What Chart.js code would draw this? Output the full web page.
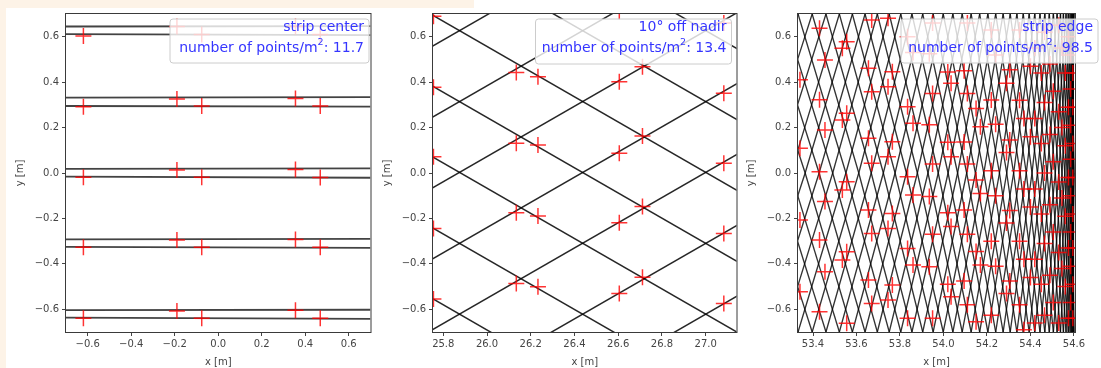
<!DOCTYPE html>
<html><head><meta charset="utf-8">
<script src="https://cdn.jsdelivr.net/npm/chart.js@4.4.1/dist/chart.umd.min.js"></script>
<style>
html,body{margin:0;padding:0;background:#fff;}
#wrap{position:relative;width:1101px;height:368px;overflow:hidden;background:#fff;}
.peach{position:absolute;background:#fdf3e7;}
canvas{position:absolute;top:0;}
</style></head><body>
<div id="wrap">
<div class="peach" style="left:0;top:0;width:474px;height:8px"></div>
<div class="peach" style="left:0;top:0;width:6px;height:368px"></div>
<canvas id="c1" width="380" height="368" style="left:0px;width:380px;height:368px"></canvas>
<canvas id="c2" width="366" height="368" style="left:380px;width:366px;height:368px"></canvas>
<canvas id="c3" width="361" height="368" style="left:740px;width:361px;height:368px"></canvas>
</div>
<script>
// ---------- shared ticks ----------
const yTicks = [-0.6, -0.4, -0.2, 0.0, 0.2, 0.4, 0.6];
const p1XTicks = [-0.6, -0.4, -0.2, 0.0, 0.2, 0.4, 0.6];
const p2XTicks = [25.8, 26.0, 26.2, 26.4, 26.6, 26.8, 27.0];
const p3XTicks = [53.4, 53.6, 53.8, 54.0, 54.2, 54.4, 54.6];

// ---------- panel 1 : strip center ----------
const p1LineX = [-0.7, 0.7];
const p1LineLeftY  = [0.645, 0.611, 0.332, 0.295, 0.018, -0.016, -0.292, -0.325, -0.604, -0.637];
const p1LineRightY = [0.647, 0.607, 0.334, 0.292, 0.020, -0.021, -0.290, -0.330, -0.602, -0.642];
const p1MarkX = [-0.62, -0.19, -0.076, 0.355, 0.469];
const p1MarkY = [
  [0.603, 0.292, -0.019, -0.327, -0.640],
  [0.645, 0.326, 0.013, -0.295, -0.607],
  [0.610, 0.295, -0.019, -0.327, -0.640],
  [0.645, 0.328, 0.015, -0.293, -0.604],
  [0.610, 0.295, -0.020, -0.327, -0.640]
];
const p1Label = 'strip center';
const p1Density = '11.7';

// ---------- panel 2 : 10° off nadir ----------
const p2LineX = [25.7, 27.2];
const p2UpStartY   = [-1.342, -1.030, -0.718, -0.406, -0.094, 0.218, 0.530];
const p2UpEndY     = [-0.511, -0.199, 0.113, 0.425, 0.737, 1.049, 1.361];
const p2DownStartY = [-0.525, -0.213, 0.099, 0.411, 0.723, 1.035, 1.347];
const p2DownEndY   = [-1.356, -1.044, -0.732, -0.420, -0.108, 0.204, 0.516];
const p2MarkX = [25.755, 26.134, 26.233, 26.605, 26.711, 27.083];
const p2MarkY = [
  [0.690, 0.377, 0.072, -0.244, -0.555],
  [0.442, 0.131, -0.175, -0.486],
  [0.424, 0.123, -0.189, -0.501],
  [0.710, 0.402, 0.087, -0.219, -0.530],
  [0.468, 0.163, -0.148, -0.459],
  [0.660, 0.351, 0.043, -0.266, -0.574]
];
const p2Label = '10° off nadir';
const p2Density = '13.4';

// ---------- panel 3 : strip edge ----------
// scan lines sampled at y = 0.7, 0.0, -0.7 (x positions read from the picture)
const p3SampleY = [0.7, 0.0, -0.7];
// lines whose turning point lies at / above the window
const p3aTop = [54.5895, 54.5946, 54.5981, 54.5998, 54.5998, 54.5981, 54.5946, 54.5895, 54.5827, 54.5741, 54.5638, 54.5518, 54.5382, 54.5227, 54.5056, 54.4868, 54.4662, 54.4440, 54.4200, 54.3943, 54.3670, 54.3378, 54.3070, 54.2745, 54.2403, 54.2043, 54.1666, 54.1273, 54.0862, 54.0434, 53.9989, 53.9526, 53.9047, 53.8551, 53.8037, 53.7506, 53.6958, 53.6394, 53.5811, 53.5212, 53.4596, 53.3962, 53.3312];
const p3aMid = [54.6000, 54.5991, 54.5966, 54.5923, 54.5863, 54.5786, 54.5692, 54.5581, 54.5452, 54.5307, 54.5144, 54.4964, 54.4767, 54.4553, 54.4322, 54.4074, 54.3809, 54.3526, 54.3227, 54.2910, 54.2576, 54.2225, 54.1857, 54.1472, 54.1069, 54.0650, 54.0213, 53.9760, 53.9289, 53.8801, 53.8296, 53.7774, 53.7235, 53.6678, 53.6105, 53.5514, 53.4906, 53.4281, 53.3639, 53.2980, 53.2304, 53.1611, 53.0900];
const p3aBot = [54.5895, 54.5827, 54.5741, 54.5638, 54.5518, 54.5382, 54.5227, 54.5056, 54.4868, 54.4662, 54.4440, 54.4200, 54.3943, 54.3670, 54.3378, 54.3070, 54.2745, 54.2403, 54.2043, 54.1666, 54.1273, 54.0862, 54.0434, 53.9989, 53.9526, 53.9047, 53.8551, 53.8037, 53.7506, 53.6958, 53.6394, 53.5811, 53.5212, 53.4596, 53.3962, 53.3312, 53.2644, 53.1959, 53.1258, 53.0538, 52.9802, 52.9049, 52.8279];
// lines whose turning point lies below the window
const p3bTop = [54.5827, 54.5741, 54.5638, 54.5518, 54.5382, 54.5227, 54.5056, 54.4868, 54.4662, 54.4440, 54.4200, 54.3943, 54.3670, 54.3378, 54.3070, 54.2745, 54.2403, 54.2043, 54.1666, 54.1273, 54.0862, 54.0434, 53.9989, 53.9526, 53.9047, 53.8551, 53.8037, 53.7506, 53.6958, 53.6394, 53.5811, 53.5212, 53.4596, 53.3962, 53.3312, 53.2644, 53.1959, 53.1258, 53.0538, 52.9802, 52.9049, 52.8279];
const p3bMid = [54.5991, 54.5966, 54.5923, 54.5863, 54.5786, 54.5692, 54.5581, 54.5452, 54.5307, 54.5144, 54.4964, 54.4767, 54.4553, 54.4322, 54.4074, 54.3809, 54.3526, 54.3227, 54.2910, 54.2576, 54.2225, 54.1857, 54.1472, 54.1069, 54.0650, 54.0213, 53.9760, 53.9289, 53.8801, 53.8296, 53.7774, 53.7235, 53.6678, 53.6105, 53.5514, 53.4906, 53.4281, 53.3639, 53.2980, 53.2304, 53.1611, 53.0900];
const p3bBot = [54.5946, 54.5981, 54.5998, 54.5998, 54.5981, 54.5946, 54.5895, 54.5827, 54.5741, 54.5638, 54.5518, 54.5382, 54.5227, 54.5056, 54.4868, 54.4662, 54.4440, 54.4200, 54.3943, 54.3670, 54.3378, 54.3070, 54.2745, 54.2403, 54.2043, 54.1666, 54.1273, 54.0862, 54.0434, 53.9989, 53.9526, 53.9047, 53.8551, 53.8037, 53.7506, 53.6958, 53.6394, 53.5811, 53.5212, 53.4596, 53.3962, 53.3312];
const p3MarkX = [53.340, 53.430, 53.455, 53.535, 53.555, 53.655, 53.670, 53.745, 53.765, 53.835, 53.860, 53.935, 53.950, 54.020, 54.035, 54.095, 54.110, 54.150, 54.170, 54.220, 54.240, 54.290, 54.305, 54.350, 54.370, 54.400, 54.420, 54.450, 54.465, 54.490, 54.505, 54.530, 54.545, 54.560, 54.575, 54.585, 54.595];
const p3MarkY = [
  [0.41, 0.109, -0.207, -0.523],
  [0.637, 0.322, 0.006, -0.295, -0.611],
  [0.498, 0.189, -0.126, -0.435],
  [0.549, 0.233, -0.075, -0.383],
  [0.578, 0.263, -0.038, -0.347, -0.662],
  [0.461, 0.153, -0.163, -0.471],
  [0.674, 0.358, 0.043, -0.266, -0.574],
  [0.681, 0.380, 0.072, -0.244, -0.559],
  [0.446, 0.138, -0.178, -0.493],
  [0.60, 0.292, -0.016, -0.332, -0.640],
  [0.53, 0.219, -0.097, -0.405],
  [0.525, 0.212, -0.104, -0.413],
  [0.66, 0.35, 0.04, -0.27, -0.64],
  [0.445, 0.135, -0.175, -0.49],
  [0.395, 0.072, -0.236, -0.545],
  [0.45, 0.137, -0.163, -0.475],
  [0.66, 0.35, 0.04, -0.27, -0.58],
  [0.284, -0.031, -0.346, -0.655],
  [0.204, -0.09, -0.405],
  [0.63, 0.321, 0.01, -0.30, -0.626],
  [0.52, 0.215, -0.10, -0.41],
  [0.395, 0.09, -0.22, -0.53],
  [0.455, 0.145, -0.165, -0.475],
  [0.63, 0.32, 0.01, -0.30, -0.58],
  [0.24, -0.07, -0.38, -0.69],
  [0.47, 0.16, -0.15, -0.46],
  [0.55, 0.24, -0.07, -0.38, -0.66],
  [0.44, 0.13, -0.18, -0.49],
  [0.62, 0.31, 0.0, -0.31, -0.626],
  [0.48, 0.17, -0.14, -0.45],
  [0.36, 0.05, -0.26, -0.57],
  [0.65, 0.27, -0.04, -0.35, -0.66],
  [0.55, 0.20, -0.11, -0.42],
  [0.44, 0.12, -0.19, -0.50],
  [0.60, 0.29, -0.02, -0.33, -0.64],
  [0.52, 0.37, 0.21, 0.06, -0.10, -0.26, -0.41, -0.57],
  [0.44, 0.29, 0.13, -0.02, -0.18, -0.33, -0.49, -0.64]
];
const p3Label = 'strip edge';
const p3Density = '98.5';

// ---------- helpers ----------
const FONT = "'DejaVu Sans', sans-serif";
const fmt = v => (v < -1e-9 ? '\u2212' : '') + Math.abs(v).toFixed(1);

function markerPoints(xs, ys) {
  const pts = [];
  xs.forEach((x, i) => ys[i].forEach(y => pts.push({x, y})));
  return pts;
}

const framePlugin = {
  id: 'frame',
  afterDatasetsDraw(chart) {
    const {ctx, chartArea: a} = chart;
    ctx.save();
    ctx.strokeStyle = '#3a3a3a';
    ctx.lineWidth = 1;
    ctx.strokeRect(a.left - 0.5, a.top - 0.5, a.right - a.left + 1, a.bottom - a.top + 1);
    ctx.restore();
  }
};

function boxLegend(o) {
  return {
    id: 'boxLegend',
    afterDraw(chart) {
      const ctx = chart.ctx;
      ctx.save();
      const l = o.right - o.w, t = o.top, w = o.w, h = o.h, r = 3;
      ctx.beginPath();
      ctx.moveTo(l + r, t);
      ctx.arcTo(l + w, t, l + w, t + h, r);
      ctx.arcTo(l + w, t + h, l, t + h, r);
      ctx.arcTo(l, t + h, l, t, r);
      ctx.arcTo(l, t, l + w, t, r);
      ctx.closePath();
      ctx.fillStyle = 'rgba(255,255,255,0.8)';
      ctx.fill();
      ctx.strokeStyle = '#cccccc';
      ctx.lineWidth = 1;
      ctx.stroke();
      const tr = o.right - 5;
      ctx.fillStyle = '#3535ff';
      ctx.textAlign = 'right';
      ctx.textBaseline = 'middle';
      ctx.font = '14px ' + FONT;
      ctx.fillText(o.label, tr, t + 8);
      const tail = ': ' + o.density;
      const wTail = ctx.measureText(tail).width;
      ctx.fillText(tail, tr, t + 29);
      ctx.font = '9.5px ' + FONT;
      const wSup = ctx.measureText('2').width;
      ctx.fillText('2', tr - wTail, t + 24);
      ctx.font = '14px ' + FONT;
      ctx.fillText('number of points/m', tr - wTail - wSup, t + 29);
      ctx.restore();
    }
  };
}

function makeChart(id, c) {
  const lineSets = c.lines.map(pts => ({
    data: pts, showLine: true, pointRadius: 0, pointHoverRadius: 0,
    borderColor: c.lineColor, borderWidth: c.lineWidth, order: 1, clip: 0
  }));
  const markSet = {
    data: c.markers, showLine: false, pointStyle: 'cross', pointRadius: 8, pointHoverRadius: 8,
    borderColor: 'rgba(255,0,0,0.8)', backgroundColor: 'rgba(255,0,0,0.8)',
    pointBorderColor: 'rgba(255,0,0,0.8)', pointBorderWidth: 1.5, order: 0, clip: 0
  };
  const tickFont = {family: FONT, size: 10};
  new Chart(document.getElementById(id), {
    type: 'scatter',
    data: {datasets: [markSet, ...lineSets]},
    options: {
      responsive: false, animation: false, devicePixelRatio: 1,
      events: [],
      layout: {padding: {left: 0, top: 14, right: c.padRight, bottom: 0}},
      plugins: {legend: {display: false}, tooltip: {enabled: false}},
      scales: {
        x: {
          type: 'linear', min: c.xmin, max: c.xmax,
          afterFit(s) { s.height = 36; },
          afterBuildTicks(s) { s.ticks = c.xTicks.map(v => ({value: v})); },
          ticks: {callback: v => fmt(v), font: tickFont, color: '#444', padding: 2, maxRotation: 0, autoSkip: false},
          grid: {display: true, drawOnChartArea: false, drawTicks: true, tickLength: 4, color: '#444'},
          border: {display: false},
          title: {display: true, text: 'x [m]', font: tickFont, color: '#444', padding: {top: 0, bottom: 0}}
        },
        y: {
          type: 'linear', min: -0.7, max: 0.7,
          afterFit(s) { s.width = c.yWidth; },
          afterBuildTicks(s) { s.ticks = yTicks.map(v => ({value: v})); },
          ticks: {callback: v => fmt(v), font: tickFont, color: '#444', padding: 3, autoSkip: false},
          grid: {display: true, drawOnChartArea: false, drawTicks: true, tickLength: 4, color: '#444'},
          border: {display: false},
          title: {display: true, text: 'y [m]', font: tickFont, color: '#444', padding: {top: c.yTitlePad, bottom: 0}}
        }
      }
    },
    plugins: [framePlugin, boxLegend(c.legend)]
  });
}

// ---------- panel 1 ----------
makeChart('c1', {
  xmin: -0.7, xmax: 0.7, xTicks: p1XTicks, yWidth: 66, padRight: 8, yTitlePad: 14,
  lineColor: 'rgba(20,20,20,0.8)', lineWidth: 1.8,
  lines: p1LineLeftY.map((y0, i) => [{x: p1LineX[0], y: y0}, {x: p1LineX[1], y: p1LineRightY[i]}]),
  markers: markerPoints(p1MarkX, p1MarkY),
  legend: {right: 369, top: 19, w: 199, h: 44, label: p1Label, density: p1Density}
});

// ---------- panel 2 ----------
const p2Lines = [];
p2UpStartY.forEach((y0, i) => p2Lines.push([{x: p2LineX[0], y: y0}, {x: p2LineX[1], y: p2UpEndY[i]}]));
p2DownStartY.forEach((y0, i) => p2Lines.push([{x: p2LineX[0], y: y0}, {x: p2LineX[1], y: p2DownEndY[i]}]));
makeChart('c2', {
  xmin: 25.753, xmax: 27.141, xTicks: p2XTicks, yWidth: 53, padRight: 8, yTitlePad: 1,
  lineColor: 'rgba(0,0,0,0.85)', lineWidth: 1.5,
  lines: p2Lines,
  markers: markerPoints(p2MarkX, p2MarkY),
  legend: {right: 351.5, top: 19, w: 196, h: 45, label: p2Label, density: p2Density}
});

// ---------- panel 3 ----------
const p3Lines = [];
p3aTop.forEach((xt, i) => p3Lines.push([
  {x: xt, y: p3SampleY[0]}, {x: p3aMid[i], y: p3SampleY[1]}, {x: p3aBot[i], y: p3SampleY[2]}]));
p3bTop.forEach((xt, i) => p3Lines.push([
  {x: xt, y: p3SampleY[0]}, {x: p3bMid[i], y: p3SampleY[1]}, {x: p3bBot[i], y: p3SampleY[2]}]));
makeChart('c3', {
  xmin: 53.331, xmax: 54.605, xTicks: p3XTicks, yWidth: 58, padRight: 26, yTitlePad: 5,
  lineColor: 'rgba(0,0,0,0.8)', lineWidth: 1.35,
  lines: p3Lines,
  markers: markerPoints(p3MarkX, p3MarkY),
  legend: {right: 358, top: 19, w: 197, h: 44, label: p3Label, density: p3Density}
});
</script>
</body></html>
